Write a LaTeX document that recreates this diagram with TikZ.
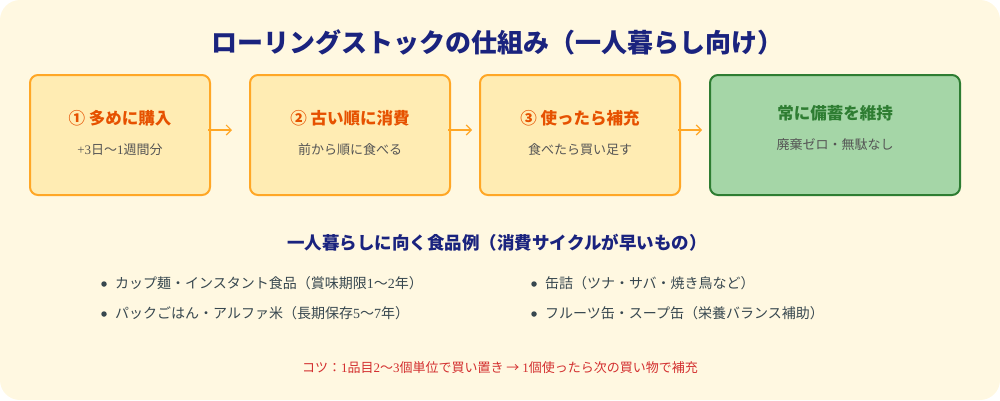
\documentclass[tikz,border=0pt]{standalone}
\usepackage{fontspec}
\setmainfont{Noto Sans CJK JP}
\newfontfamily\ser{Liberation Serif}
\usetikzlibrary{arrows.meta}
\definecolor{bg}{HTML}{FFF8E1}
\definecolor{navy}{HTML}{1A237E}
\definecolor{boxfill}{HTML}{FFECB3}
\definecolor{boxline}{HTML}{FFA726}
\definecolor{steporange}{HTML}{E65100}
\definecolor{greenfill}{HTML}{A5D6A7}
\definecolor{greenline}{HTML}{2E7D32}
\definecolor{subgray}{HTML}{555555}
\definecolor{listgray}{HTML}{37474F}
\definecolor{tipred}{HTML}{D32F2F}
\tikzset{
  stepbox/.style={draw=boxline, fill=boxfill, line width=2pt, rounded corners=8pt, minimum height=120pt},
  goalbox/.style={draw=greenline, fill=greenfill, line width=2pt, rounded corners=8pt, minimum height=120pt, minimum width=250pt},
  steptitle/.style={font=\fontsize{16.5}{20}\selectfont\bfseries, text=steporange, inner sep=0pt},
  goaltitle/.style={font=\fontsize{16.5}{20}\selectfont\bfseries, text=greenline, inner sep=0pt},
  subtext/.style={font=\fontsize{13}{16}\selectfont, text=subgray, inner sep=0pt},
  flowarrow/.style={draw=boxline, line width=1.2pt, -{Straight Barb[length=5pt,width=10pt]}},
  listitem/.style={font=\fontsize{14}{17}\selectfont, text=listgray, anchor=west, inner sep=0pt},
  bulletdot/.style={fill=listgray, circle, inner sep=0pt, minimum size=5.5pt}
}
\begin{document}
\begin{tikzpicture}[x=1pt, y=-1pt]
\useasboundingbox (0,0) rectangle (1000,400);
\fill[bg, rounded corners=20pt] (0,0) rectangle (1000,400);
% title
\node[font=\fontsize{26}{31}\selectfont\bfseries, text=navy, inner sep=0pt] (title) at (497,42) {ローリングストックの仕組み（一人暮らし向け）};
% boxes
\node[stepbox, minimum width=180pt] (b1) at (120,135) {};
\node[stepbox, minimum width=200pt] (b2) at (350,135) {};
\node[stepbox, minimum width=200pt] (b3) at (580,135) {};
\node[goalbox] (b4) at (835,135) {};
\node[steptitle] (t1) at (120,118) {① 多めに購入};
\node[subtext] (s1) at (120,150) {{\ser +3}日〜{\ser 1}週間分};
\node[steptitle] (t2) at (350,118) {② 古い順に消費};
\node[subtext] (s2) at (350,150) {前から順に食べる};
\node[steptitle] (t3) at (580,118) {③ 使ったら補充};
\node[subtext] (s3) at (580,150) {食べたら買い足す};
\node[goaltitle] (t4) at (835,113) {常に備蓄を維持};
\node[subtext] (s4) at (835,145) {廃棄ゼロ・無駄なし};
% arrows
\draw[flowarrow] ([xshift=-3pt,yshift=5pt]b1.east) -- ([xshift=-17pt,yshift=5pt]b2.west);
\draw[flowarrow] ([xshift=-3pt,yshift=5pt]b2.east) -- ([xshift=-7pt,yshift=5pt]b3.west);
\draw[flowarrow] ([xshift=-3pt,yshift=5pt]b3.east) -- ([xshift=-7pt,yshift=5pt]b4.west);
% section heading
\node[font=\fontsize{17.5}{21}\selectfont\bfseries, text=navy, inner sep=0pt] (head) at (497,243) {一人暮らしに向く食品例（消費サイクルが早いもの）};
% list
\node[bulletdot] (d1) at (104,284) {};
\node[listitem] (l1) at (115,283) {カップ麺・インスタント食品（賞味期限{\ser 1}〜{\ser 2}年）};
\node[bulletdot] (d2) at (104,314) {};
\node[listitem] (l2) at (115,313) {パックごはん・アルファ米（長期保存{\ser 5}〜{\ser 7}年）};
\node[bulletdot] (d3) at (534,284) {};
\node[listitem] (l3) at (545,283) {缶詰（ツナ・サバ・焼き鳥など）};
\node[bulletdot] (d4) at (534,314) {};
\node[listitem] (l4) at (545,313) {フルーツ缶・スープ缶（栄養バランス補助）};
% tip
\node[font=\fontsize{13}{16}\selectfont, text=tipred, inner sep=0pt] (tip) at (500,368) {コツ：{\ser 1}品目{\ser 2}〜{\ser 3}個単位で買い置き → {\ser 1}個使ったら次の買い物で補充};
\end{tikzpicture}
\end{document}
